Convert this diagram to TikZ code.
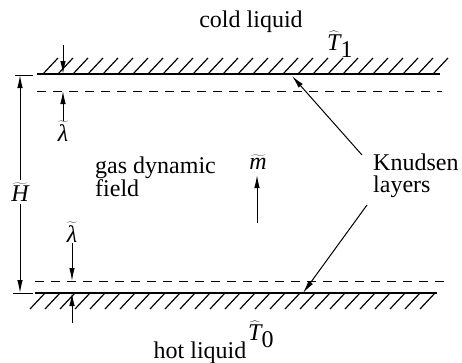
\documentclass[tikz,border=0pt]{standalone}
\usepackage{fontspec}
\setmainfont{Liberation Serif}
\usetikzlibrary{arrows.meta}
\begin{document}
\begin{tikzpicture}[x=1pt,y=-1pt,
  lbl/.style={inner sep=0pt, font=\fontsize{24}{22}\selectfont},
  wall/.style={line width=2.2pt},
  hatch/.style={line width=1.2pt},
  thinline/.style={line width=1pt},
  dashline/.style={line width=1pt, dash pattern=on 9pt off 7pt},
  tipped/.style={thinline, -{Latex[length=13pt,width=5.5pt]}},
]
\useasboundingbox (0,0) rectangle (462,362);
% walls
\coordinate (tw1) at (37,74); \coordinate (tw2) at (440,74);
\coordinate (bw1) at (35,293); \coordinate (bw2) at (437,293);
\draw[wall] (tw1) -- (tw2);
\draw[wall] (bw1) -- (bw2);
\foreach \x in {43,58,...,433} \draw[hatch] (\x,74) -- ++(15,-16);
\foreach \x in {45,60,...,435} \draw[hatch] (\x,293) -- ++(-15,16);
% dashed edges of Knudsen layers
\coordinate (td1) at (37,91); \coordinate (td2) at (442,91);
\coordinate (bd1) at (35,281); \coordinate (bd2) at (445,281);
\draw[dashline] (td1) -- (td2);
\draw[dashline] (bd1) -- (bd2);
% labels
\node[lbl, anchor=base] (cold) at (251,27) {cold liquid};
\node[lbl, anchor=base west] (T1) at (327,50) {$\widehat{\textit{T}}_{\textrm{1}}$};
\node[lbl, anchor=base] (hot) at (200,358) {hot liquid};
\node[lbl, anchor=base west] (T0) at (248,340) {$\widehat{\textit{T}}_{\textrm{0}}$};
\node[lbl, anchor=north west, align=left] (gas) at (95,157) {gas dynamic\\field};
\node[lbl, anchor=north west, align=left] (knud) at (373,154) {Knudsen\\layers};
\node[lbl] (H) at (20,192) {$\widetilde{\textit{H}}$};
\node[lbl] (lam1) at (63,131) {$\widetilde{\textit{λ}}$};
\node[lbl] (lam2) at (72,232) {$\widetilde{\textit{λ}}$};
\node[lbl] (m) at (258,162) {$\widetilde{\textit{m}}$};
% H dimension
\coordinate (ht1) at (15,75); \coordinate (ht2) at (33,75);
\coordinate (hb1) at (13,293); \coordinate (hb2) at (33,293);
\draw[thinline] (ht1) -- (ht2);
\draw[thinline] (hb1) -- (hb2);
\coordinate (Htop) at (20,75); \coordinate (Hbot) at (20,293);
\draw[tipped] (H.north) ++(0,-2) -- (Htop);
\draw[tipped] (H.south) ++(0,2) -- (Hbot);
% lambda top
\coordinate (l1a) at (63,45); \coordinate (l1w) at (63,74); \coordinate (l1d) at (63,91);
\draw[tipped] (l1a) -- (l1w);
\draw[tipped] (lam1.north) -- (l1d);
% lambda bottom
\coordinate (l2d) at (72,281); \coordinate (l2w) at (72,293); \coordinate (l2b) at (72,323);
\draw[tipped] (lam2.south) ++(0,1) -- (l2d);
\draw[tipped] (l2b) -- (l2w);
% mass flux
\coordinate (m0) at (257,223); \coordinate (mt) at (257,175);
\draw[tipped] (m0) -- (mt);
% Knudsen arrows
\coordinate (k1) at (362,155); \coordinate (k1t) at (292,76);
\coordinate (k2) at (367,205); \coordinate (k2t) at (303,293);
\draw[tipped] (k1) -- (k1t);
\draw[tipped] (k2) -- (k2t);
\end{tikzpicture}
\end{document}
